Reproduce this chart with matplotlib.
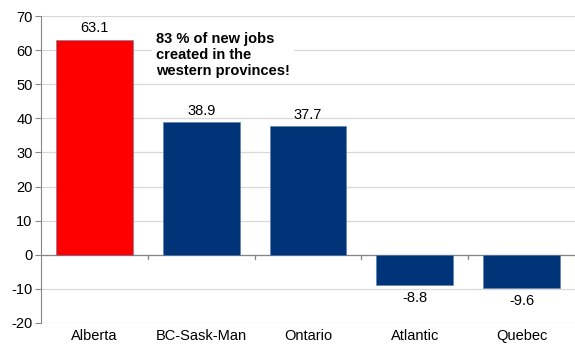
import matplotlib.pyplot as plt

plt.rcParams['font.family'] = ['Liberation Sans', 'DejaVu Sans']
plt.rcParams['axes.unicode_minus'] = False

# regions and job change (thousands)
regions = ['Alberta', 'BC-Sask-Man', 'Ontario', 'Atlantic', 'Quebec']
jobs = [63.1, 38.9, 37.7, -8.8, -9.6]
colors = ['#ff0000', '#003478', '#003478', '#003478', '#003478']

fig = plt.figure(figsize=(5.75, 3.47), dpi=100)
ax = fig.add_axes([41 / 575, 1 - 323 / 347, 1 - 41 / 575, (323 - 16) / 347])

x = range(len(regions))
ax.bar(x, jobs, width=0.72, color=colors, edgecolor='#5a7bb0', linewidth=0.4, zorder=3)

for i, v in enumerate(jobs):
    if v >= 0:
        ax.text(i, v + 1.2, f'{v:.1f}', ha='center', va='bottom', fontsize=10.5)
    else:
        ax.text(i, v - 1.8, f'{v:.1f}', ha='center', va='top', fontsize=10.5)

ax.text(0.58, 65.3, '83 % of new jobs\ncreated in the\nwestern provinces!',
        fontsize=10.5, fontweight='bold', va='top', ha='left', linespacing=1.2,
        bbox=dict(facecolor='white', edgecolor='none', pad=3), zorder=4)

ax.set_ylim(-20, 70)
ax.set_yticks(range(-20, 71, 10))
ax.set_xlim(-0.5, 4.5)
ax.set_xticks(list(x))
ax.set_xticklabels(regions)
ax.tick_params(axis='x', length=0, labelsize=10.5, pad=4)
ax.tick_params(axis='y', length=4, color='#868686', labelsize=10.5, pad=2)
ax.grid(axis='y', color='#d9d9d9', linewidth=0.9, zorder=0)

for s in ['top', 'right', 'bottom']:
    ax.spines[s].set_visible(False)
ax.spines['left'].set_color('#868686')
ax.axhline(0, color='#868686', linewidth=0.9, zorder=2)
# category separators on the zero line
for b in [0.5, 1.5, 2.5, 3.5]:
    ax.plot([b, b], [0, -1.2], color='#868686', linewidth=0.9, zorder=2, clip_on=False)

fig.savefig('out.png', dpi=100)
